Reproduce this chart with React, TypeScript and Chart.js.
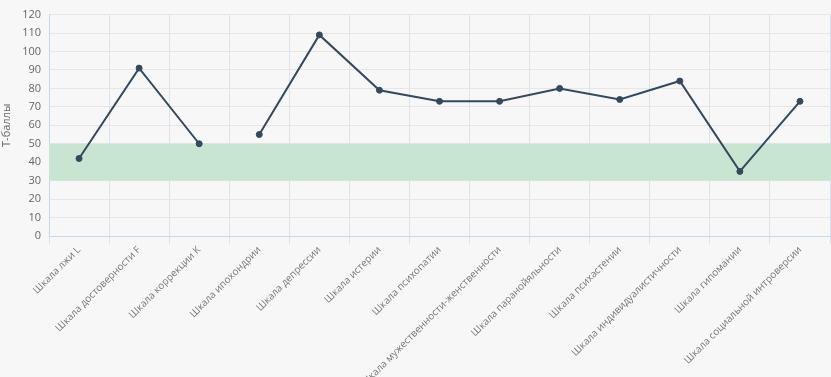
import React, { useEffect, useRef } from "react";
import { Chart, registerables } from "chart.js";

Chart.register(...registerables);

const categories = [
  "Шкала лжи L",
  "Шкала достоверности F",
  "Шкала коррекции K",
  "Шкала ипохондрии",
  "Шкала депрессии",
  "Шкала истерии",
  "Шкала психопатии",
  "Шкала мужественности-женственности",
  "Шкала паранойяльности",
  "Шкала психастении",
  "Шкала индивидуалистичности",
  "Шкала гипомании",
  "Шкала социальной интроверсии",
];

const validityScores = [42, 91, 50, null, null, null, null, null, null, null, null, null, null];
const clinicalScores = [null, null, null, 55, 109, 79, 73, 73, 80, 74, 84, 35, 73];

const normBand = [30, 50];
const yRange = [0, 120];
const yStep = 10;
const yTitle = "T-баллы";

const LINE = "#34495e";

const bandPlugin = {
  id: "normBand",
  beforeDatasetsDraw(chart: any) {
    const { ctx, chartArea, scales } = chart;
    const y1 = scales.y.getPixelForValue(normBand[1]);
    const y0 = scales.y.getPixelForValue(normBand[0]);
    ctx.save();
    ctx.fillStyle = "#c7e5d1";
    ctx.fillRect(chartArea.left, y1, chartArea.right - chartArea.left + 4, y0 - y1);
    ctx.restore();
  },
};

export default function App() {
  const ref = useRef<HTMLCanvasElement>(null);
  useEffect(() => {
    const ds = (data: (number | null)[]) => ({
      data,
      borderColor: LINE,
      backgroundColor: LINE,
      borderWidth: 2,
      pointRadius: 3,
      pointBorderWidth: 1,
      pointBackgroundColor: LINE,
      tension: 0,
      spanGaps: false,
    });
    const chart = new Chart(ref.current!, {
      type: "line",
      data: {
        labels: categories,
        datasets: [ds(validityScores), ds(clinicalScores)],
      },
      options: {
        responsive: false,
        animation: false,
        layout: { autoPadding: false, padding: { top: 14, right: 1, left: 0, bottom: 0 } },
        plugins: { legend: { display: false }, tooltip: { enabled: false } },
        scales: {
          x: {
            offset: true,
            grid: { offset: true, color: "#dde3ea", tickLength: 8, lineWidth: 1 },
            border: { color: "#c9d8e6" },
            ticks: {
              minRotation: 45,
              maxRotation: 45,
              autoSkip: false,
              color: "#777",
              padding: 0,
              font: { family: "'Open Sans', sans-serif", size: 10 },
            },
            afterFit(scale: any) {
              scale.height = 141;
              scale.paddingRight = 0;
              scale.paddingLeft = 0;
            },
          },
          y: {
            min: yRange[0],
            max: yRange[1],
            ticks: {
              stepSize: yStep,
              color: "#666",
              padding: 8,
              font: { family: "'Open Sans', sans-serif", size: 11 },
            },
            grid: { color: "#e6e6e6", drawTicks: false },
            border: { color: "#c9d8e6" },
            title: {
              display: true,
              text: yTitle,
              color: "#666",
              padding: 0,
              font: { family: "'Open Sans', sans-serif", size: 11 },
            },
            afterFit(scale: any) {
              scale.width = 49;
            },
          },
        },
      },
      plugins: [bandPlugin],
    });
    return () => chart.destroy();
  }, []);
  return (
    <div style={{ position: "absolute", left: 0, top: 0, width: 831, height: 377, background: "#f7f7f7", overflow: "hidden" }}>
      <canvas ref={ref} width={831} height={377} style={{ display: "block" }} />
    </div>
  );
}
